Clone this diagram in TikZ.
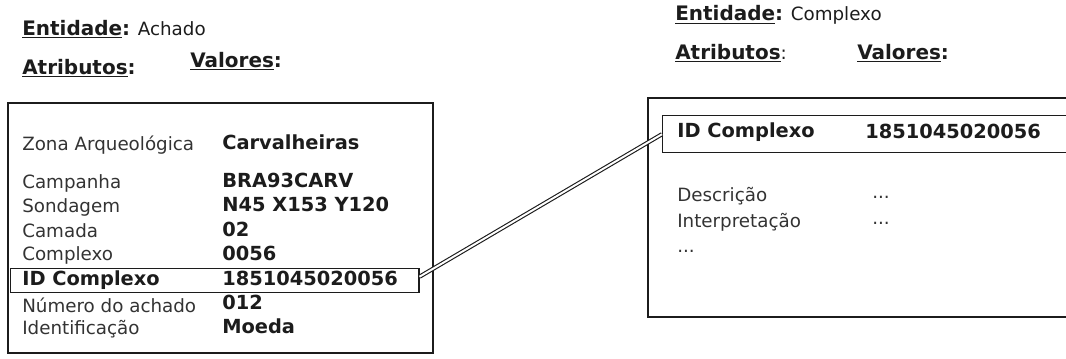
\documentclass[tikz,border=0pt]{standalone}
\usepackage{fontspec}
\setmainfont{DejaVu Sans}
\usepackage{xcolor}
\usetikzlibrary{positioning}
\definecolor{Ink}{HTML}{1C1C1C}
\definecolor{Soft}{HTML}{333333}

\begin{document}
\begin{tikzpicture}[x=0.025cm,y=-0.025cm,
    font=\fontsize{13}{15}\selectfont,
    hdr/.style={anchor=west,inner sep=0pt,text=Ink},
    attr/.style={anchor=west,inner sep=0pt,text=Soft},
    val/.style={anchor=west,inner sep=0pt,text=Ink,font=\fontsize{13.8}{16}\selectfont\bfseries},
    frame/.style={draw=Ink,line width=1.3pt},
    idbox/.style={draw=Ink,line width=1pt,inner sep=0pt,anchor=north west},
    link/.style={draw=Ink,double,double distance=1.4pt,line width=0.8pt}]
  \useasboundingbox (0,0) rectangle (1066,358);

  % Achado
  \node[hdr] (entA) at (22,29) {{\fontsize{14.2}{16}\selectfont\bfseries\underline{Entidade}:} Achado};
  \node[hdr] (atrA) at (22,68) {{\fontsize{14.2}{16}\selectfont\bfseries\underline{Atributos}:}};
  \node[hdr] (valA) at (190,61) {{\fontsize{14.2}{16}\selectfont\bfseries\underline{Valores}:}};
  \draw[frame] (8,103) rectangle (433,353);
  \node[attr] (zona) at (22,145) {Zona Arqueológica};
  \node[val] (zonaV) at (222,142) {Carvalheiras};
  \node[attr] (camp) at (22,183) {Campanha};
  \node[val] (campV) at (222,180) {BRA93CARV};
  \node[attr] (sond) at (22,207) {Sondagem};
  \node[val] (sondV) at (222,204) {N45 X153 Y120};
  \node[attr] (cama) at (22,231) {Camada};
  \node[val] (camaV) at (222,229) {02};
  \node[attr] (comp) at (22,255) {Complexo};
  \node[val] (compV) at (222,253) {0056};
  \node[idbox,minimum width=10.2cm,minimum height=0.6cm] (idA) at (10,268) {};
  \node[val] (idAk) at (22,280) {ID Complexo};
  \node[val] (idAv) at (222,278) {1851045020056};
  \node[attr] (num) at (22,305) {Número do achado};
  \node[val] (numV) at (222,302) {012};
  \node[attr] (iden) at (22,329) {Identificação};
  \node[val] (idenV) at (222,326) {Moeda};

  % Complexo
  \node[hdr] (entB) at (675,15) {{\fontsize{14.2}{16}\selectfont\bfseries\underline{Entidade}:} Complexo};
  \node[hdr] (atrB) at (675,53) {{\fontsize{14.2}{16}\selectfont\bfseries\underline{Atributos}}:};
  \node[hdr] (valB) at (857,53) {{\fontsize{14.2}{16}\selectfont\bfseries\underline{Valores}:}};
  \draw[frame] (648,98) rectangle (1080,317);
  \node[idbox,minimum width=10.45cm,minimum height=0.925cm] (idB) at (662,115) {};
  \node[val] (idBk) at (677,132) {ID Complexo};
  \node[val] (idBv) at (865,131) {1851045020056};
  \node[attr] (desc) at (677,196) {Descrição};
  \node[attr] (descV) at (872,197) {...};
  \node[attr] (interp) at (677,222) {Interpretação};
  \node[attr] (interpV) at (872,223) {...};
  \node[attr] (more) at (677,251) {...};

  \draw[link] ([yshift=0.1cm]idA.east) -- (idB.west);
\end{tikzpicture}
\end{document}
